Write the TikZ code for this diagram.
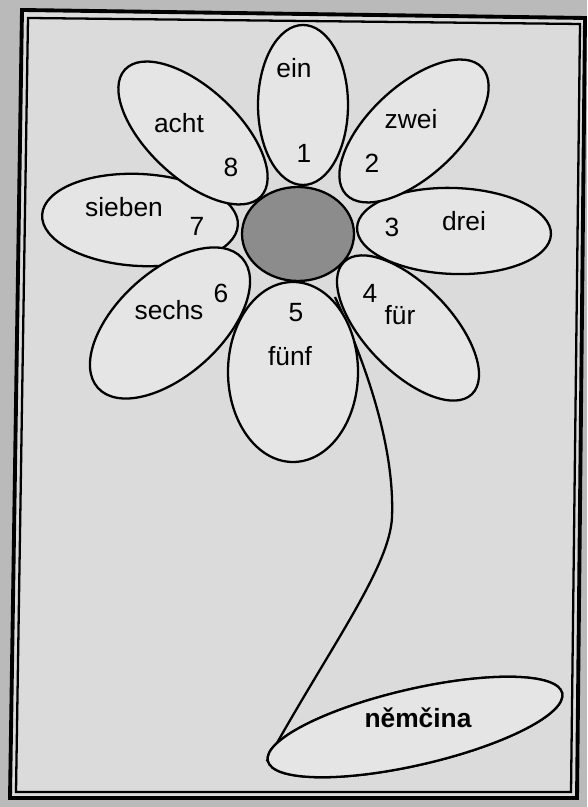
\documentclass[tikz,border=0pt]{standalone}
\usepackage{fontspec}
\setmainfont{Liberation Sans}
\usetikzlibrary{shapes.geometric}

\begin{document}
\begin{tikzpicture}[x=0.2mm, y=0.2mm,
    petal/.style={draw, line width=1.3pt, fill=black!10},
    word/.style={font=\fontsize{15}{18}\selectfont, inner sep=0pt},
    num/.style={font=\fontsize{15}{18}\selectfont, inner sep=0pt}]

        % Paper and double frame
        \fill[black!27] (0,0) rectangle (587,807);
        \useasboundingbox (0,0) rectangle (587,807);
        \fill[black!14] (22,797) -- (585,789) -- (577,9) -- (10,9) -- cycle;
        \draw[line width=2.2pt] (22,797) -- (585,789) -- (577,9) -- (10,9) -- cycle;
        \draw[line width=1.3pt] (28,789) -- (580,783) -- (571,15) -- (16,15) -- cycle;

        % Stem, under the petals
        \coordinate (stemtop) at (335,510);
        \node[draw, ellipse, line width=1.3pt, fill=black!10, rotate=13,
              minimum width=60.4mm, minimum height=15.2mm, inner sep=0pt]
              (lang) at (415,80) {};
        \draw[line width=1.3pt] (stemtop) .. controls (358,460) and (395,370) .. (392,290)
            .. controls (390,240) and (330,160) .. (lang.west);
        \node[draw, ellipse, line width=1.3pt, fill=black!10, rotate=13,
              minimum width=60.4mm, minimum height=15.2mm, inner sep=0pt]
              at (lang) {};

        % Petals: centre / half length / half width / angle
        \foreach \cx/\cy/\a/\b/\r in {140/587/98/46/-3, 454/576/97/43/-2,
                193/674/93/45/-43, 170/484/97/52/42, 414/676/93/45/43,
                408/479/92/43/-46, 303/702/80/45/90, 293/435/90/65/90} {
            \draw[petal, rotate around={\r:(\cx,\cy)}] (\cx,\cy) ellipse [x radius=\a, y radius=\b];
        }

        % Centre
        \draw[line width=1.3pt, fill=black!45] (298,573) ellipse [x radius=56, y radius=47];

        % Numbers
        \foreach \n/\x/\y in {1/304/654, 2/372/644, 3/392/580, 4/370/514,
                5/296/494, 6/221/514, 7/197/581, 8/231/640} {
            \node[num] (n\n) at (\x,\y) {\n};
        }

        % Words
        \foreach \nm/\w/\x/\y in {w1/ein/294/739, w2/zwei/411/688, w3/drei/464/586,
                w4/für/400/492, w5/fünf/290/451, w6/sechs/169/497,
                w7/sieben/124/600, w8/acht/179/684} {
            \node[word] (\nm) at (\x,\y) {\w};
        }

        \node[word, font=\fontsize{15}{18}\selectfont\bfseries] (langtext) at (418,89) {němčina};

    \end{tikzpicture}
\end{document}
